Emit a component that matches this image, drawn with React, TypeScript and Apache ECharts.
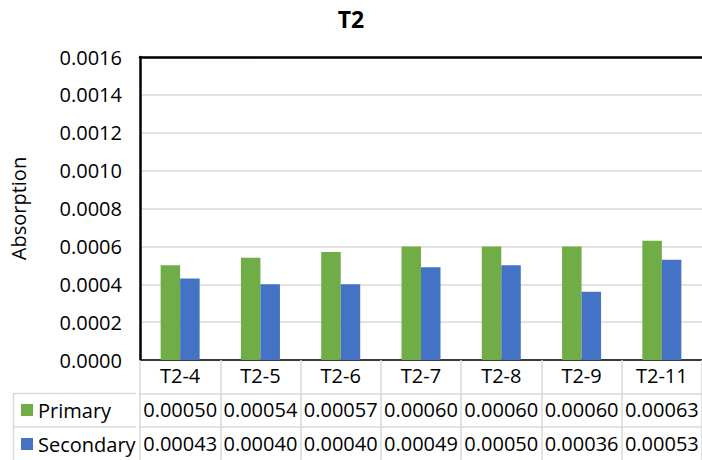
import React, { useEffect, useRef } from "react";
import * as echarts from "echarts";

const categories = ["T2-4", "T2-5", "T2-6", "T2-7", "T2-8", "T2-9", "T2-11"];
const primary = [0.0005, 0.00054, 0.00057, 0.0006, 0.0006, 0.0006, 0.00063];
const secondary = [0.00043, 0.0004, 0.0004, 0.00049, 0.0005, 0.00036, 0.00053];
const seriesNames = ["Primary", "Secondary"];
const colors = ["#70ad47", "#4472c4"];

const FONT = "'Open Sans', sans-serif";
const GRAY = "#d9d9d9";

export default function App() {
  const ref = useRef<HTMLDivElement>(null);
  useEffect(() => {
    if (!ref.current) return;
    const chart = echarts.init(ref.current, undefined, { renderer: "svg" });
    const fmt = (v: number) => v.toFixed(5);
    const gridLeft = 136;
    const gridTop = 57;
    const gridBottom = 100;
    chart.setOption({
      animation: false,
      textStyle: { fontFamily: FONT, color: "#000" },
      title: {
        text: "T2",
        left: "center",
        top: 2,
        textStyle: { fontFamily: FONT, fontWeight: "bold", fontSize: 23, color: "#000" },
      },
      legend: {
        orient: "vertical",
        left: 21,
        top: 398,
        padding: 0,
        itemGap: 10,
        itemWidth: 12,
        itemHeight: 12,
        icon: "rect",
        data: seriesNames,
        textStyle: { fontFamily: FONT, fontSize: 20, color: "#000", lineHeight: 24 },
      },
      grid: { left: gridLeft, top: gridTop, right: -3, bottom: gridBottom, containLabel: false },
      xAxis: [
        {
          type: "category",
          data: categories,
          position: "bottom",
          axisLine: { show: true, lineStyle: { color: "#000", width: 1.5 } },
          axisTick: { show: true, length: 100, interval: 0, lineStyle: { color: GRAY, width: 1.5 } },
          axisLabel: { interval: 0, margin: 5, fontFamily: FONT, fontSize: 20, color: "#000" },
        },
        {
          type: "category",
          data: categories,
          position: "top",
          axisLine: { show: true, lineStyle: { color: "#000", width: 2.5 } },
          axisTick: { show: false },
          axisLabel: { show: false },
        },
        {
          type: "category",
          data: primary.map(fmt),
          position: "bottom",
          offset: 33.5,
          axisLine: { show: true, lineStyle: { color: GRAY, width: 1.5 } },
          axisTick: { show: false },
          axisLabel: { interval: 0, margin: 6, fontFamily: FONT, fontSize: 20, color: "#000" },
        },
        {
          type: "category",
          data: secondary.map(fmt),
          position: "bottom",
          offset: 67,
          axisLine: { show: true, lineStyle: { color: GRAY, width: 1.5 } },
          axisTick: { show: false },
          axisLabel: { interval: 0, margin: 6, fontFamily: FONT, fontSize: 20, color: "#000" },
        },
      ],
      yAxis: {
        type: "value",
        min: 0,
        max: 0.0016,
        interval: 0.0002,
        name: "Absorption",
        nameLocation: "middle",
        nameGap: 112,
        nameTextStyle: { fontFamily: FONT, fontSize: 20, color: "#000" },
        axisLine: { show: true, lineStyle: { color: "#000", width: 2.5 } },
        axisTick: { show: false },
        splitLine: { show: true, lineStyle: { color: GRAY, width: 1.5 } },
        axisLabel: {
          margin: 18,
          fontFamily: FONT,
          fontSize: 20,
          color: "#000",
          formatter: (v: number) => v.toFixed(4),
        },
      },
      series: [
        {
          name: seriesNames[0],
          type: "bar",
          data: primary,
          barWidth: 19.5,
          barGap: "0%",
          itemStyle: { color: colors[0] },
          xAxisIndex: 0,
          yAxisIndex: 0,
        },
        {
          name: seriesNames[1],
          type: "bar",
          data: secondary,
          barWidth: 19.5,
          barGap: "0%",
          itemStyle: { color: colors[1] },
          xAxisIndex: 0,
          yAxisIndex: 0,
        },
      ],
      graphic: [
        { type: "line", shape: { x1: 13, y1: 393.5, x2: gridLeft, y2: 393.5 }, style: { stroke: GRAY, lineWidth: 1.5 } },
        { type: "line", shape: { x1: 13, y1: 427, x2: gridLeft, y2: 427 }, style: { stroke: GRAY, lineWidth: 1.5 } },
        { type: "line", shape: { x1: 13.5, y1: 393, x2: 13.5, y2: 460 }, style: { stroke: GRAY, lineWidth: 1.5 } },
      ],
    });
    return () => chart.dispose();
  }, []);
  return (
    <div
      ref={ref}
      style={{ position: "fixed", left: 0, top: 0, width: 702, height: 460, background: "#fff" }}
    />
  );
}
